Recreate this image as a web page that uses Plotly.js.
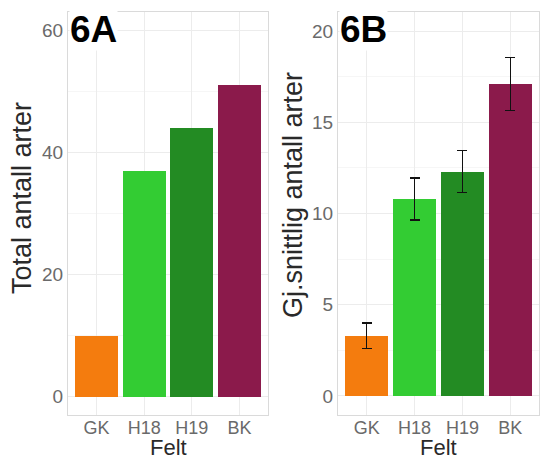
<!DOCTYPE html>
<html>
<head>
<meta charset="utf-8">
<script src="https://cdn.plot.ly/plotly-3.0.1.min.js"></script>
<style>html,body{margin:0;padding:0;background:#fff;}#chart{width:540px;height:461px;}</style>
</head>
<body>
<div id="chart"></div>
<script>
const felt = ['GK', 'H18', 'H19', 'BK'];
const totalArter = [10, 37, 44, 51];
const snittArter = [3.3, 10.8, 12.3, 17.1];
const snittFeil = [0.7, 1.15, 1.15, 1.45];
const farger = ['#F47C0E', '#33CC33', '#238B23', '#8B1A4B'];
const panelA = '6A';
const panelB = '6B';
const yTitleA = 'Total antall arter';
const yTitleB = 'Gj.snittlig antall arter';
const xTitle = 'Felt';

const font = 'Liberation Sans, Arial, sans-serif';

const traces = [
  {type: 'bar', x: felt, y: totalArter, marker: {color: farger}, width: 0.9,
   xaxis: 'x', yaxis: 'y', hoverinfo: 'x+y'},
  {type: 'bar', x: felt, y: snittArter, marker: {color: farger}, width: 0.9,
   xaxis: 'x2', yaxis: 'y2',
   error_y: {type: 'data', array: snittFeil, visible: true, color: '#111', thickness: 1.5, width: 5}}
];

const xBase = {
  type: 'category', range: [-0.6, 3.6], showgrid: true, gridcolor: '#ececec', gridwidth: 1,
  showline: true, linecolor: '#dadada', linewidth: 1, mirror: true, ticklabelstandoff: -4,
  ticks: '', tickfont: {family: font, size: 18, color: '#6a6a6a'}, fixedrange: true, zeroline: false
};
const yBase = {
  showgrid: true, gridcolor: '#ececec', gridwidth: 1, zeroline: false,
  showline: true, linecolor: '#dadada', linewidth: 1, mirror: true,
  ticks: '', tickfont: {family: font, size: 19, color: '#6a6a6a'}
};

const layout = {
  width: 540, height: 461,
  margin: {l: 0, r: 0, t: 0, b: 0},
  paper_bgcolor: '#fff', plot_bgcolor: '#fff',
  showlegend: false, bargap: 0,
  xaxis: Object.assign({}, xBase, {domain: [68/540, 268/540], anchor: 'y'}),
  xaxis2: Object.assign({}, xBase, {domain: [338/540, 539/540], anchor: 'y2'}),
  yaxis: Object.assign({}, yBase, {domain: [46/461, 449/461], range: [-3, 63], dtick: 20, tick0: 0,
    minor: {showgrid: true, gridcolor: '#f6f6f6', dtick: 10}, anchor: 'x'}),
  yaxis2: Object.assign({}, yBase, {domain: [46/461, 449/461], range: [-1.05, 21.05], dtick: 5, tick0: 0,
    minor: {showgrid: true, gridcolor: '#f6f6f6', dtick: 2.5}, anchor: 'x2'}),
  annotations: [
    {text: '<b>' + panelA + '</b>', xref: 'paper', yref: 'paper', x: 69/540, y: 1 - 8/461,
     xanchor: 'left', yanchor: 'top', showarrow: false, bgcolor: '#fff',
     font: {family: font, size: 37, color: '#000'}, borderpad: 0},
    {text: '<b>' + panelB + '</b>', xref: 'paper', yref: 'paper', x: 339/540, y: 1 - 8/461,
     xanchor: 'left', yanchor: 'top', showarrow: false, bgcolor: '#fff',
     font: {family: font, size: 37, color: '#000'}, borderpad: 0},
    {text: yTitleA, xref: 'paper', yref: 'paper', x: 22/540, y: 1 - 198/461, textangle: -90,
     xanchor: 'center', yanchor: 'middle', showarrow: false,
     font: {family: font, size: 27, color: '#2a2a2a'}},
    {text: yTitleB, xref: 'paper', yref: 'paper', x: 293/540, y: 1 - 195/461, textangle: -90,
     xanchor: 'center', yanchor: 'middle', showarrow: false,
     font: {family: font, size: 27, color: '#2a2a2a'}},
    {text: xTitle, xref: 'paper', yref: 'paper', x: 168/540, y: 0,
     xanchor: 'center', yanchor: 'bottom', showarrow: false, borderpad: 0,
     font: {family: font, size: 22, color: '#2a2a2a'}},
    {text: xTitle, xref: 'paper', yref: 'paper', x: 438/540, y: 0,
     xanchor: 'center', yanchor: 'bottom', showarrow: false, borderpad: 0,
     font: {family: font, size: 22, color: '#2a2a2a'}}
  ]
};

Plotly.newPlot('chart', traces, layout, {displayModeBar: false, staticPlot: true});
</script>
</body>
</html>
